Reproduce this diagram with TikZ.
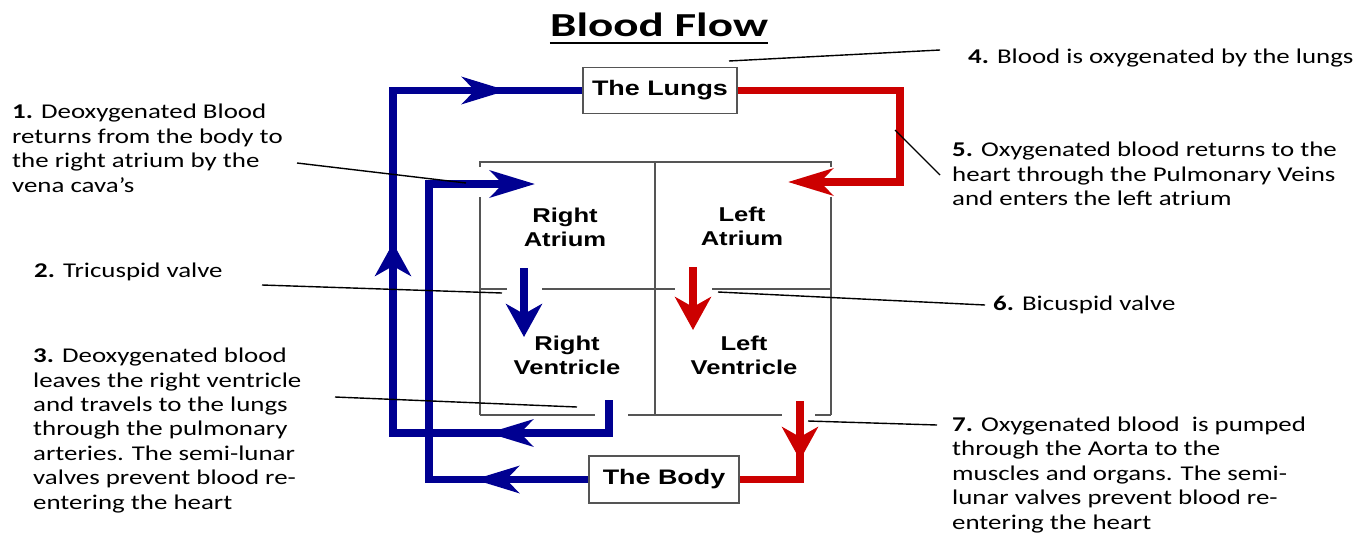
\documentclass[tikz,border=0pt]{standalone}
\usepackage{fontspec}
\setmainfont{Carlito}[FakeStretch=1.28]
\newfontfamily\arialfont{Liberation Sans}[FakeStretch=1.28]
\newfontfamily\titlefont{Carlito}[FakeStretch=1.4]
\usetikzlibrary{arrows.meta}
\definecolor{flowblue}{RGB}{0,0,145}
\definecolor{flowred}{RGB}{204,0,0}
\definecolor{wallgray}{RGB}{85,85,85}
\begin{document}
\begin{tikzpicture}[x=1pt,y=-1pt,
  wall/.style={draw=wallgray, line width=2pt},
  organ/.style={draw=wallgray, line width=1.5pt, fill=white, font=\arialfont\bfseries\fontsize{21}{25}\selectfont, inner sep=0pt},
  chamber/.style={font=\arialfont\bfseries\fontsize{20}{24}\selectfont, align=center, anchor=base, inner sep=0pt},
  note/.style={font=\fontsize{21}{24.4}\selectfont, align=left, anchor=base west, inner sep=0pt},
  bflow/.style={draw=flowblue, line width=7.5pt},
  rflow/.style={draw=flowred, line width=7.5pt},
  hhead/.style={-{Stealth[length=45pt,width=27pt,inset=13pt]}},
  vhead/.style={-{Stealth[length=33pt,width=36pt,inset=10pt]}},
  pointer/.style={draw=black, line width=1.4pt},
]
\useasboundingbox (0,0) rectangle (1370,533);

% title
\node[font=\titlefont\bfseries\fontsize{33.6}{40}\selectfont, anchor=base, inner sep=0pt] (title) at (659,36.7) {Blood Flow};
\draw[line width=2.2pt] (title.south west |- 0,43.3) -- (title.south east |- 0,43.3);

% heart walls
\draw[wall] (480,167) -- (480,162) -- (831,162) -- (831,167);
\draw[wall] (480,197) -- (480,415);
\draw[wall] (831,197) -- (831,415);
\draw[wall] (655,162) -- (655,415);
\draw[wall] (480,289) -- (507,289);
\draw[wall] (542,289) -- (675,289);
\draw[wall] (712,289) -- (831,289);
\draw[wall] (480,415) -- (595,415);
\draw[wall] (628,415) -- (782,415);
\draw[wall] (815,415) -- (831,415);

% chambers (anchor at baseline of last line)
\node[chamber] (ra) at (565,246) {Right\\Atrium};
\node[chamber] (la) at (742,245) {Left\\Atrium};
\node[chamber] (rv) at (567,374) {Right\\Ventricle};
\node[chamber] (lv) at (744,374) {Left\\Ventricle};

% organs
\node[organ, minimum width=154pt, minimum height=46pt] (lungs) at (660,90.5) {The Lungs};
\node[organ, minimum width=150pt, minimum height=47pt] (body) at (664,479.5) {The Body};

% coordinates
\coordinate (rvout) at (609,400);
\coordinate (rain) at (535,184);
\coordinate (lain) at (788,182);
\coordinate (lvout) at (800,401);

% blue flows
\draw[bflow] (rvout) -- (609,433) -- (393,433) -- (393,90.5) -- (lungs.west);
\draw[bflow,hhead] (540,433) -- (488,433);
\draw[bflow,vhead] (393,300) -- (393,243);
\draw[bflow,hhead] (450,90.5) -- (507,90.5);
\draw[bflow,hhead] (body.west) -- (429,479.5) -- (429,184) -- (rain);
\draw[bflow,hhead] (530,479.5) -- (474,479.5);
\draw[bflow,vhead] (524,268) -- (524,337);

% red flows
\draw[rflow,hhead] (lungs.east) -- (900,90.5) -- (900,182) -- (lain);
\draw[rflow,vhead] (693,267) -- (693,330);
\draw[rflow] (lvout) -- (800,479.5) -- (body.east);
\draw[rflow,vhead] (800,420) -- (800,460);

% notes (anchor at baseline of last line)
\node[note] (n1) at (12,192) {\textbf{1.} Deoxygenated Blood\\returns from the body to\\the right atrium by the\\vena cava’s};
\node[note] (n2) at (34,277) {\textbf{2.} Tricuspid valve};
\node[note] (n3) at (33,509) {\textbf{3.} Deoxygenated blood\\leaves the right ventricle\\and travels to the lungs\\through the pulmonary\\arteries. The semi-lunar\\valves prevent blood re-\\entering the heart};
\node[note] (n4) at (968,63) {\textbf{4.} Blood is oxygenated by the lungs};
\node[note] (n5) at (952,205.5) {\textbf{5.} Oxygenated blood returns to the\\heart through the Pulmonary Veins\\and enters the left atrium};
\node[note] (n6) at (993,310) {\textbf{6.} Bicuspid valve};
\node[note] (n7) at (952,529) {\textbf{7.} Oxygenated blood\ \ is pumped\\through the Aorta to the\\muscles and organs. The semi-\\lunar valves prevent blood re-\\entering the heart};

% pointers
\coordinate (p1a) at (297,163); \coordinate (p1b) at (466,183);
\coordinate (p2a) at (262,285); \coordinate (p2b) at (502,293);
\coordinate (p3a) at (335,397); \coordinate (p3b) at (577,407);
\coordinate (p4a) at (940,50);  \coordinate (p4b) at (729,61);
\coordinate (p5a) at (895,130); \coordinate (p5b) at (940,175);
\coordinate (p6a) at (718,292); \coordinate (p6b) at (985,305);
\coordinate (p7a) at (808,421); \coordinate (p7b) at (937,425);
\draw[pointer] (p1a) -- (p1b);
\draw[pointer] (p2a) -- (p2b);
\draw[pointer] (p3a) -- (p3b);
\draw[pointer] (p4a) -- (p4b);
\draw[pointer] (p5a) -- (p5b);
\draw[pointer] (p6a) -- (p6b);
\draw[pointer] (p7a) -- (p7b);
\end{tikzpicture}
\end{document}
